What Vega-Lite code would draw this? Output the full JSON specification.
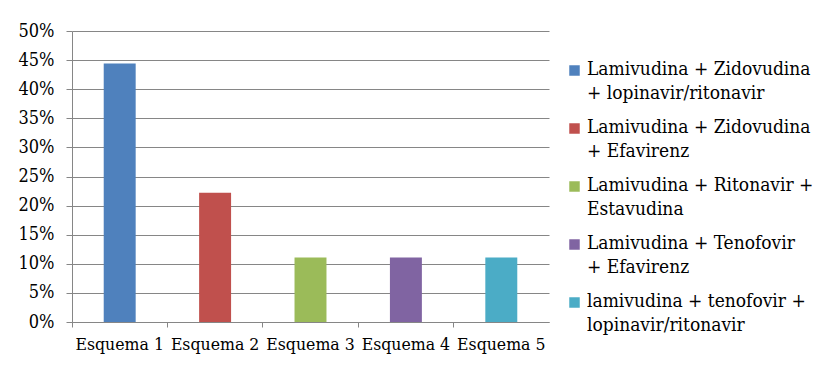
{
  "$schema": "https://vega.github.io/schema/vega-lite/v6.json",
  "width": 477,
  "height": 291,
  "padding": {"left": 18, "top": 22, "right": 5, "bottom": 5},
  "background": "white",
  "config": {
    "font": "DejaVu Serif Condensed",
    "view": {"stroke": null},
    "axis": {"labelFont": "DejaVu Serif Condensed", "labelColor": "black", "domainColor": "#868686", "tickColor": "#868686", "gridColor": "#868686"},
    "legend": {"labelFont": "DejaVu Serif Condensed"}
  },
  "data": {
    "values": [
      {"esquema": "Esquema 1", "regimen": "Lamivudina + Zidovudina\n+ lopinavir/ritonavir", "pct": 0.444},
      {"esquema": "Esquema 2", "regimen": "Lamivudina + Zidovudina\n+ Efavirenz", "pct": 0.222},
      {"esquema": "Esquema 3", "regimen": "Lamivudina + Ritonavir +\nEstavudina", "pct": 0.111},
      {"esquema": "Esquema 4", "regimen": "Lamivudina + Tenofovir\n+ Efavirenz", "pct": 0.111},
      {"esquema": "Esquema 5", "regimen": "lamivudina + tenofovir +\nlopinavir/ritonavir", "pct": 0.111}
    ]
  },
  "mark": {"type": "bar", "width": {"band": 0.335}},
  "encoding": {
    "x": {
      "field": "esquema", "type": "nominal", "sort": null,
      "scale": {"paddingInner": 0, "paddingOuter": 0},
      "axis": {"title": null, "labelAngle": 0, "labelFontSize": 17.5, "tickSize": 5, "bandPosition": 0, "labelPadding": 8, "grid": false, "labelBandPosition": 0.5}
    },
    "y": {
      "field": "pct", "type": "quantitative",
      "scale": {"domain": [0, 0.5], "nice": false},
      "axis": {"title": null, "format": ".0%", "values": [0, 0.05, 0.1, 0.15, 0.2, 0.25, 0.3, 0.35, 0.4, 0.45, 0.5], "labelOverlap": false, "labelFontSize": 18, "tickSize": 6, "labelPadding": 12, "grid": true}
    },
    "color": {
      "field": "regimen", "type": "nominal", "sort": null,
      "scale": {"range": ["#4F81BD", "#C0504D", "#9BBB59", "#8064A2", "#4BACC6"]},
      "legend": {
        "title": null, "orient": "none", "legendX": 493, "legendY": 30,
        "symbolType": "square", "symbolSize": 110, "symbolStrokeWidth": 0,
        "labelFontSize": 19, "labelLimit": 300, "labelColor": "black",
        "labelExpr": "split(datum.label, '\\n')", "labelBaseline": "top", "labelOffset": 3,
        "rowPadding": 14,
        "encode": {"labels": {"update": {"lineHeight": {"value": 24}, "dy": {"value": -11}}}}
      }
    }
  }
}
